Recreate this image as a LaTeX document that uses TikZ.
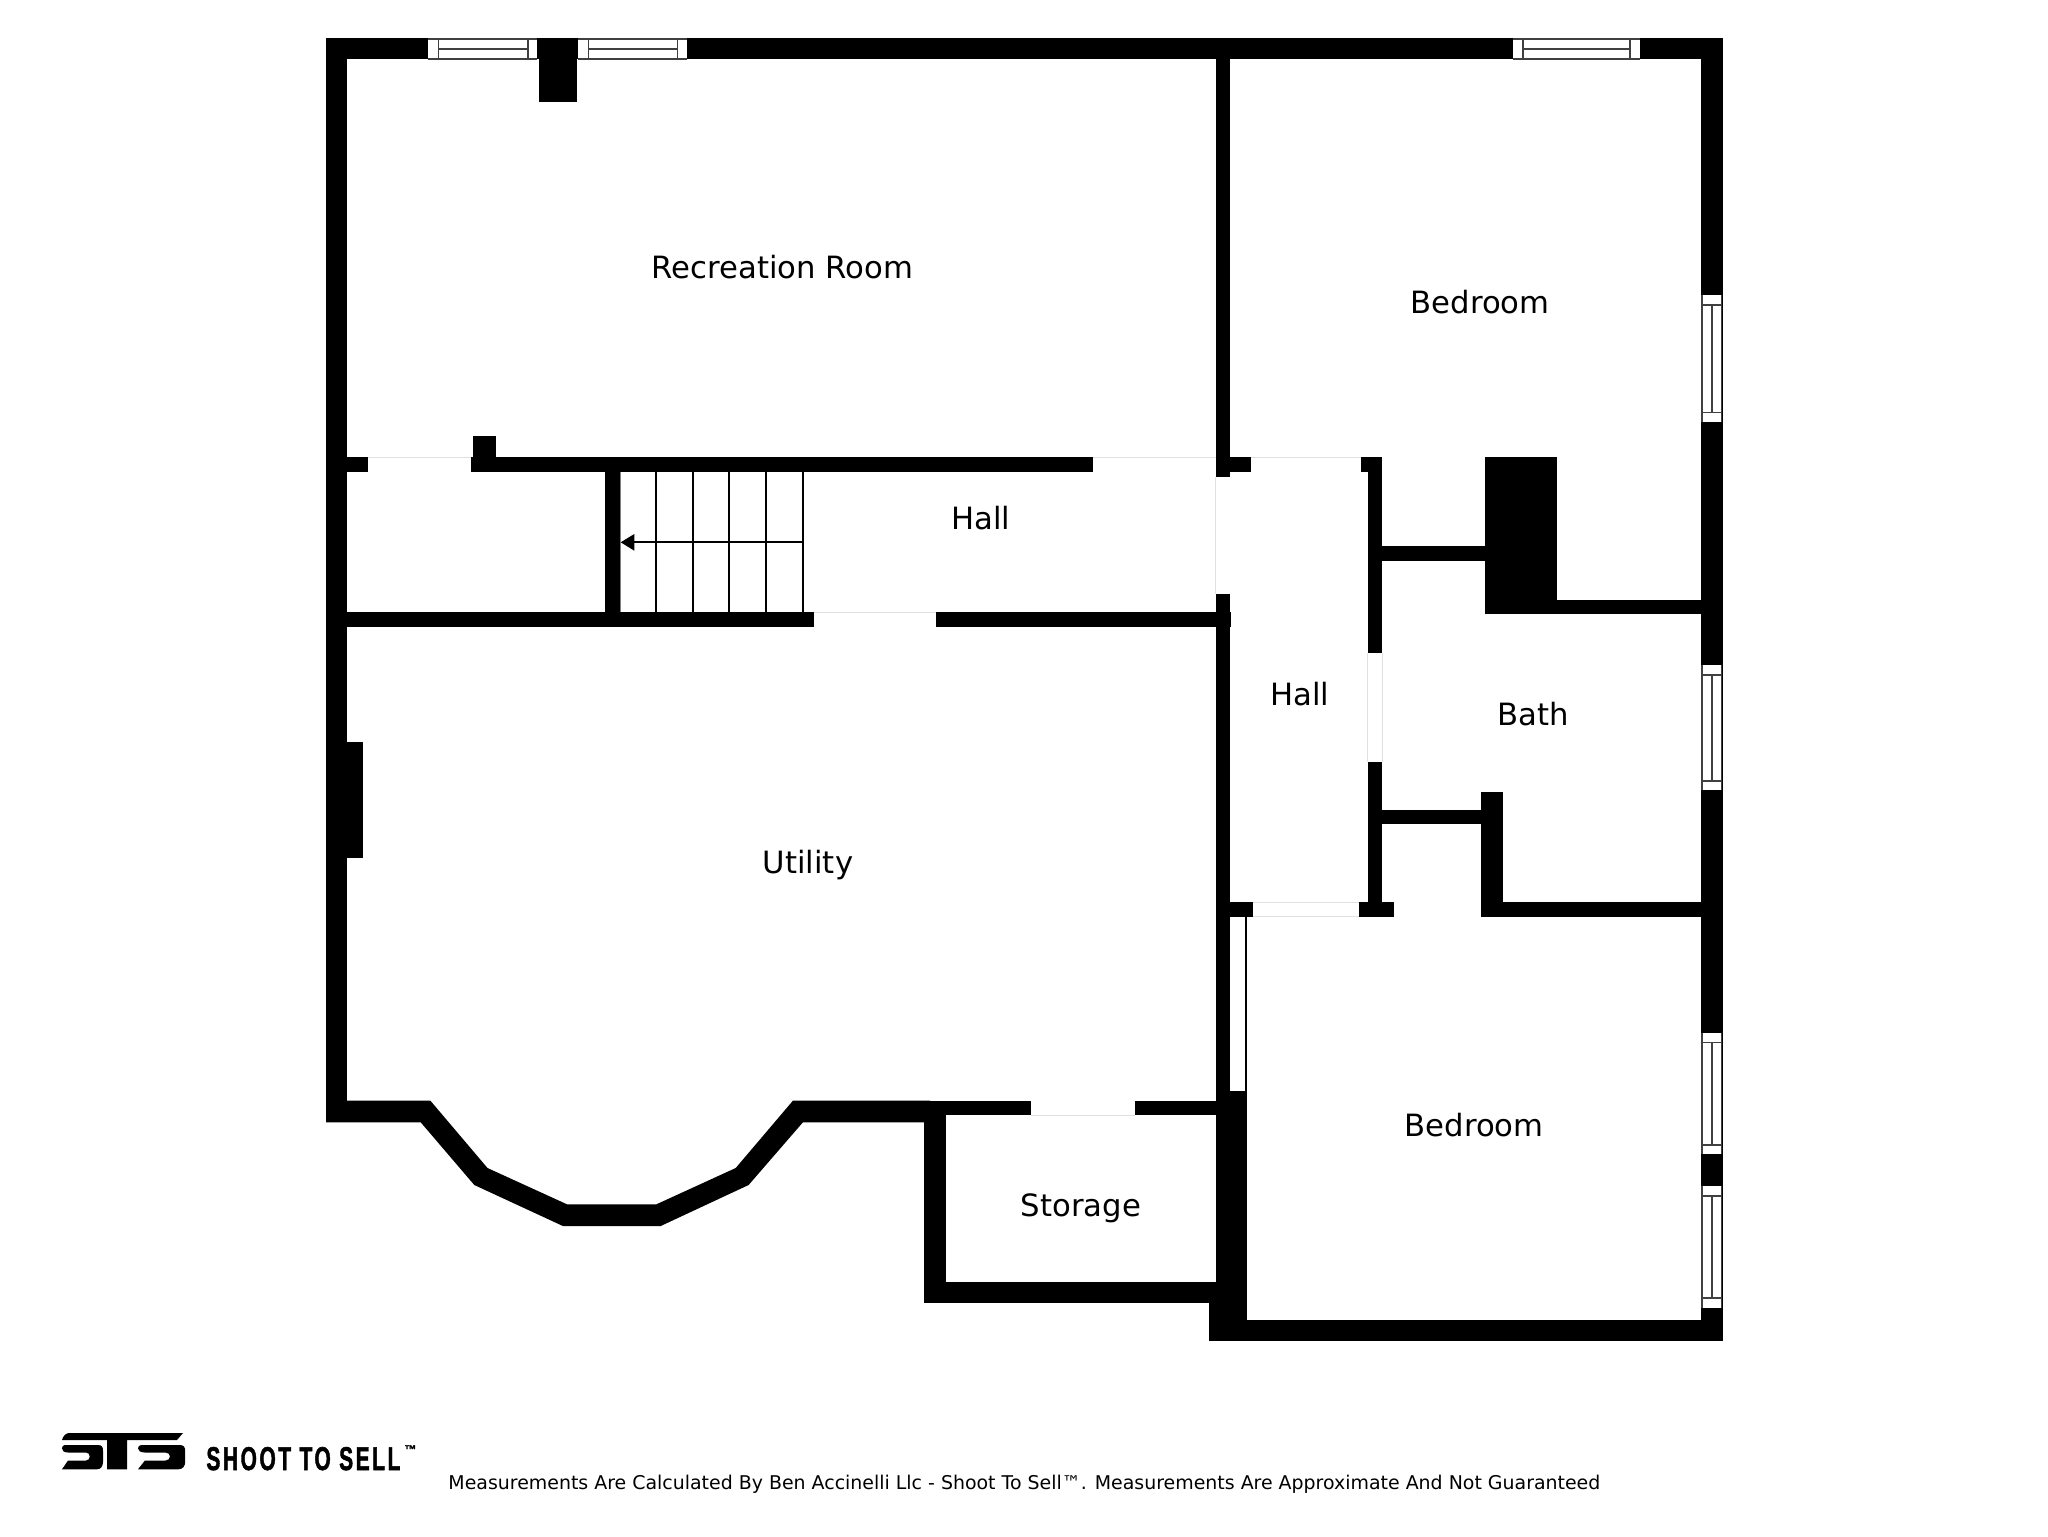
\documentclass[tikz,border=0pt]{standalone}
\usepackage{fontspec}
\setmainfont{DejaVu Sans}
\newfontfamily\logofont[LetterSpace=12,FakeBold=1.8]{Liberation Sans Bold}
\newcommand{\wallbox}[4]{\fill[wallfill] (#1,#2) rectangle (#3,#4);}
\newcommand{\hwin}[6]{\fill[winfill] (#1,#5) rectangle (#4,#6);
  \draw[winline] (#1,#5) -- (#4,#5) (#1,#6) -- (#4,#6) (#2,#5) -- (#2,#6) (#3,#5) -- (#3,#6) (#2,{(#5+#6)/2}) -- (#3,{(#5+#6)/2});}
\newcommand{\vwin}[6]{\fill[winfill] (#5,#1) rectangle (#6,#4);
  \draw[winline] (#5,#1) -- (#5,#4) (#6,#1) -- (#6,#4) (#5,#2) -- (#6,#2) (#5,#3) -- (#6,#3) ({(#5+#6)/2},#2) -- ({(#5+#6)/2},#3);}
\newcommand{\logoess}[2]{\fill[wallfill,shift={(#1,0)},xscale=#2] (3,1445) -- (36,1445) .. controls (40,1445) and (41,1447) .. (41,1451) -- (41,1462) .. controls (41,1466) and (39,1469.3) .. (35,1469.3) -- (0,1469.3) -- (6,1460.5) -- (24,1460.5) .. controls (29,1460.5) and (29,1452.5) .. (24,1452.5) -- (6,1452.5) .. controls (2,1452.5) and (0,1450.5) .. (0,1448.5) .. controls (0,1446.5) and (1,1445) .. (3,1445) -- cycle;}
\tikzset{
  x=0.5pt,y=-0.5pt,
  wallfill/.style={fill=black},
  winfill/.style={fill=white},
  winline/.style={draw=black!75,line width=0.8pt},
  doorline/.style={draw=black!12,line width=0.5pt},
  stairline/.style={draw=black,line width=1pt},
  roomlabel/.style={font=\fontsize{15.35}{18}\selectfont,anchor=base,inner sep=0pt,text=black},
  footlabel/.style={font=\fontsize{9.47}{11}\selectfont,anchor=base west,inner sep=0pt,text=black},
}
\begin{document}
\begin{tikzpicture}
\useasboundingbox (0,0) rectangle (2048,1536);
% outer and long walls
\wallbox{326}{38.3}{1722.5}{59.3}
\wallbox{326}{38.3}{347}{1122.3}
\wallbox{1701}{38.3}{1722.5}{1341.3}
\wallbox{539.3}{50}{577.3}{102.3}
\wallbox{326}{742.3}{363.3}{858}
% upper hall wall
\wallbox{340}{457}{368}{472}
\wallbox{471}{457}{1093.4}{472}
\wallbox{473.2}{436}{496.4}{460}
\wallbox{605}{460}{620.7}{627}
\wallbox{340}{612}{813.6}{626.7}
\wallbox{936}{612}{1231.3}{626.7}
% central walls
\wallbox{1215.5}{50}{1230}{476.7}
\wallbox{1215.5}{594.3}{1230}{1110}
\wallbox{1225}{457}{1251.2}{472}
\wallbox{1361.4}{457}{1382.2}{472}
\wallbox{1367.5}{460}{1382.2}{653.3}
\wallbox{1367.5}{762.3}{1382.2}{910}
\wallbox{1378}{545.7}{1490}{560.7}
\wallbox{1485.4}{457}{1556.5}{614.3}
\wallbox{1550}{599.7}{1705}{614.3}
\wallbox{1378}{809.7}{1485}{824.3}
\wallbox{1480.6}{791.7}{1502.8}{916.7}
\wallbox{1495}{902}{1705}{916.7}
\wallbox{1225}{902}{1253}{916.7}
\wallbox{1358.8}{902}{1394.3}{916.7}
% lower walls
\wallbox{1215.7}{1091}{1247}{1341.3}
\wallbox{1208.5}{1303}{1247}{1341.3}
\wallbox{1215.7}{1319.7}{1722.5}{1341.3}
\wallbox{1245.4}{917}{1247.4}{1095}
\wallbox{900}{1100.7}{1031.3}{1115.3}
\wallbox{1134.7}{1100.7}{1220}{1115.3}
\wallbox{924.3}{1100.7}{945.7}{1303.3}
\wallbox{924.3}{1282.3}{1220}{1303.3}
% bay wall
\fill[wallfill] (326,1100.7) -- (430.4,1100.7) -- (487.5,1168) -- (567,1204.3) -- (656.4,1204.3) -- (735.7,1168) -- (792.9,1100.7) -- (930,1100.7) -- (930,1122.3) -- (802.9,1122.3) -- (748.6,1185) -- (660.7,1226) -- (562.9,1226) -- (474.3,1185) -- (420.7,1122.3) -- (326,1122.3) -- cycle;
% door thresholds
\draw[doorline] (368,457) -- (471,457) (813.6,612) -- (936,612) (1093.4,457) -- (1215.5,457)
  (1215.5,476.7) -- (1215.5,594.3) (1251.2,457) -- (1361.4,457)
  (1367.5,653.3) -- (1367.5,762.3) (1382.2,653.3) -- (1382.2,762.3)
  (1253,902) -- (1358.8,902) (1253,916.7) -- (1358.8,916.7) (1031.3,1115.3) -- (1134.7,1115.3);
% windows
\hwin{428}{438.3}{527.7}{536.7}{39}{59}
\hwin{578.3}{588.3}{677.3}{686.7}{39}{59}
\hwin{1513.3}{1522.7}{1630}{1640}{39}{59}
\vwin{295}{305}{412.3}{421.7}{1702}{1721.5}
\vwin{665.3}{675}{780.7}{790}{1702}{1721.5}
\vwin{1032.7}{1042.3}{1144.7}{1154}{1702}{1721.5}
\vwin{1186}{1196}{1298}{1307.7}{1702}{1721.5}
% stairs
\draw[stairline] (656.4,472) -- (656.4,612) (692.9,472) -- (692.9,612) (729.3,472) -- (729.3,612) (766,472) -- (766,612) (802.5,472) -- (802.5,612) (630,542.3) -- (802.5,542.3);
\draw[draw=black!50,line width=0.5pt] (620.9,472) -- (620.9,612);
\fill[wallfill] (620.7,542.3) -- (634.3,534) -- (634.3,550.7) -- cycle;
% labels
\node[roomlabel] (rec) at (782.5,278.5) {Recreation Room};
\node[roomlabel] (bed1) at (1480,313.5) {Bedroom};
\node[roomlabel] (hall1) at (981,529.5) {Hall};
\node[roomlabel] (hall2) at (1299.8,705.7) {Hall};
\node[roomlabel] (bath) at (1533.5,725.7) {Bath};
\node[roomlabel] (util) at (808,873.5) {Utility};
\node[roomlabel] (bed2) at (1474,1136.7) {Bedroom};
\node[roomlabel] (stor) at (1081,1216.7) {Storage};
\node[footlabel] (foot) at (448,1489.5) {Measurements Are Calculated By Ben Accinelli Llc - Shoot To Sell™. Measurements Are Approximate And Not Guaranteed};
% logo
\fill[wallfill] (69,1433) -- (183,1433) -- (177,1440) -- (127,1440) -- (127,1469.3) -- (107,1469.3) -- (107,1440) -- (62,1440) .. controls (63,1436) and (66,1433) .. (69,1433) -- cycle;
\logoess{62}{1}
\logoess{138}{1.15}
\node[anchor=base west,inner sep=0pt] (logotext) at (206,1470) {\resizebox{97pt}{11.5pt}{\logofont SHOOT TO SELL}};
\node[anchor=base west,inner sep=0pt,font=\logofont\fontsize{6}{7}\selectfont] (logotm) at (404,1453.5) {™};
\end{tikzpicture}
\end{document}
